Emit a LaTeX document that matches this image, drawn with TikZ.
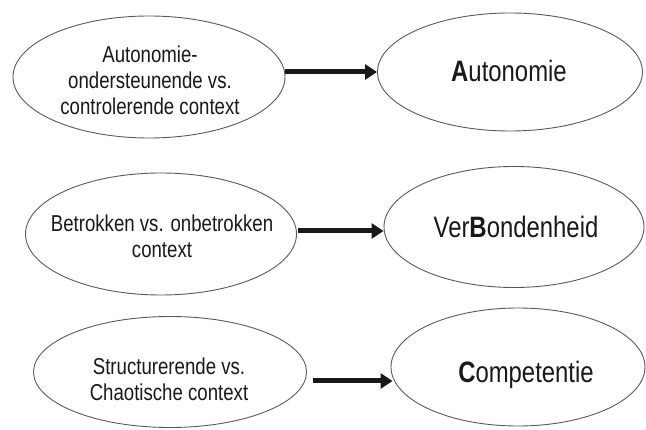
\documentclass[tikz,border=0pt]{standalone}
\usepackage{fontspec}
\setmainfont{Liberation Sans}[FakeStretch=0.81]
\usetikzlibrary{shapes.geometric,arrows.meta}
\tikzset{
  oval/.style={ellipse, draw=black!65, line width=0.9pt, inner sep=0pt},
  lt/.style={anchor=north, align=center, text=black!90, font=\fontsize{23}{26}\selectfont, inner sep=0pt},
  rt/.style={anchor=base, text=black!90, font=\fontsize{29.5}{34}\selectfont, inner sep=0pt},
  arr/.style={line width=5pt, -{Triangle[length=12pt,width=15pt]}, black!90}
}
\begin{document}
\begin{tikzpicture}[x=1pt,y=-1pt]
\useasboundingbox (0,0) rectangle (646,430);
% row 1
\node[oval, minimum width=272pt, minimum height=122pt] (A1) at (149,77) {};
\node[oval, minimum width=265pt, minimum height=118pt] (A2) at (510,72) {};
\node[lt] (A1t) at (150,46) {Autonomie-\\ondersteunende vs.\\controlerende context};
\node[rt] (A2t) at (509,82) {\textbf{A}utonomie};
\draw[arr] (A1.east |- A2.west) -- (A2.west);
% row 2
\node[oval, minimum width=271pt, minimum height=122pt] (B1) at (161,234) {};
\node[oval, minimum width=260pt, minimum height=121pt] (B2) at (514,227) {};
\node[lt] (B1t) at (162,215) {Betrokken vs. onbetrokken\\context};
\node[rt] (B2t) at (516,238) {Ver\textbf{B}ondenheid};
\coordinate (s2) at (298,231);
\draw[arr] (s2) -- (s2 -| B2.west);
% row 3
\node[oval, minimum width=273pt, minimum height=111pt] (C1) at (170,372) {};
\node[oval, minimum width=254pt, minimum height=118pt] (C2) at (518,367) {};
\node[lt] (C1t) at (169,358) {Structurerende vs.\\Chaotische context};
\node[rt] (C2t) at (526,383) {\textbf{C}ompetentie};
\coordinate (s3) at (313,381);
\draw[arr] (s3) -- ([xshift=2pt]s3 -| C2.west);
\end{tikzpicture}
\end{document}
